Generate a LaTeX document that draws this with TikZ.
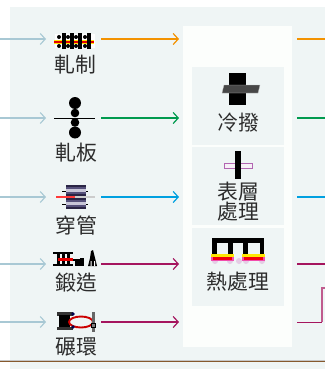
\documentclass[tikz,border=0pt]{standalone}
\usepackage{fontspec}
\newfontfamily\cjk{Noto Sans CJK TC}
\usetikzlibrary{arrows.meta}
\definecolor{panel}{HTML}{EFF5F5}
\definecolor{whitebox}{HTML}{FCFEFC}
\definecolor{inarrow}{HTML}{A8C8D4}
\definecolor{cOrange}{HTML}{F39200}
\definecolor{cGreen}{HTML}{009A4E}
\definecolor{cBlue}{HTML}{00A0E0}
\definecolor{cPurple}{HTML}{A5155E}
\definecolor{txt}{HTML}{2C2C2C}
\definecolor{rollD}{HTML}{2A2545}
\definecolor{rollM}{HTML}{55507A}
\definecolor{rollL}{HTML}{C8C6D8}
\tikzset{
  lbl/.style={font=\cjk\fontsize{20.8}{20.8}\selectfont,text=txt,inner sep=0pt,align=center},
  slot/.style={minimum width=55pt,minimum height=10pt,inner sep=0pt,outer sep=0pt},
  inline/.style={draw=inarrow,line width=1.1pt,-{Straight Barb[length=5pt,width=11pt]}},
  outline/.style={line width=2pt,-{Straight Barb[length=5pt,width=11pt,line width=1.2pt]}},
  tail/.style={line width=2pt},
  innerbox/.style={fill=panel,draw=none}
}
\begin{document}
\begin{tikzpicture}[x=1pt,y=-1pt]
\useasboundingbox (0,0) rectangle (325,369);
\fill[white] (0,0) rectangle (325,369);
\fill[panel] (10,7) rectangle (325,369);
\fill[whitebox] (183,26) rectangle (292,347);
\fill[innerbox] (192,67) rectangle (284,145);
\fill[innerbox] (192,147) rectangle (284,225);
\fill[innerbox] (192,228) rectangle (284,306);
\fill[gray!45] (0,360) rectangle (325,362.2);
\fill[brown!70!black] (0,360.6) rectangle (325,361.6);
\fill[white] (0,362.2) rectangle (10,369);
% slots and ends
\foreach \n/\y in {1/39,2/118,3/197,4/264,5/322}{
  \node[slot] (n\n) at (73.5,\y) {};
  \coordinate (s\n) at (0,\y);
  \coordinate (p\n) at (179,\y);
  \coordinate (q\n) at (297,\y);
  \coordinate (r\n) at (325,\y);
  \draw[inline] (s\n) -- (n\n.west);
}
\coordinate (c1) at (322,322);
\coordinate (c2) at (322,288);
\coordinate (c3) at (325,288);
\draw[outline,cOrange] (n1.east) -- (p1);
\draw[outline,cGreen] (n2.east) -- (p2);
\draw[outline,cBlue] (n3.east) -- (p3);
\draw[outline,cPurple] (n4.east) -- (p4);
\draw[outline,cPurple] (n5.east) -- (p5);
\draw[tail,cOrange] (q1) -- (r1);
\draw[tail,cGreen] (q2) -- (r2);
\draw[tail,cBlue] (q3) -- (r3);
\draw[tail,cPurple] (q4) -- (r4);
\draw[cPurple,line width=1pt] (q5) -- (c1);
\draw[cPurple!70!white,line width=1.4pt] (c1) -- (c2) -- (c3);
% rolling icon 1
\fill[white] (55,34) rectangle (95,48);
\fill[yellow!90!orange] (54,39.8) rectangle (94,43.8);
\fill[red!90!black] (54,40.8) rectangle (94,42.8);
\foreach \x in {62,70,78,87}{\fill[black] (\x,33.5) rectangle (\x+4,49);}
\foreach \x in {59,68,76,85}{\fill[black] (\x,37) circle (2); \fill[black] (\x,46) circle (2);}
% rolling icon 2
\draw[black,line width=.8pt] (54,118) -- (95,118);
\fill[black] (75,103) circle (6);
\fill[black] (75,113) circle (4.3);
\fill[black] (75,122.5) circle (4.3);
\fill[black] (75,132.5) circle (6);
% piercing icon
\fill[red!70!pink] (56,196) rectangle (75,198);
\fill[gray!40] (75,196) rectangle (95,198);
\draw[black,line width=1pt] (62,191) -- (88,191) (62,204) -- (88,204);
\foreach \a/\b in {65.5/74.8,75.4/85.5}{
 \foreach \t in {184.8,198.2}{
  \fill[rollD] (\a,\t) rectangle (\b,\t+11);
  \fill[rollM] (\a,\t+2) rectangle (\b,\t+9);
  \fill[rollL] (\a,\t+4) rectangle (\b,\t+7);
 }
}
% forging icon
\fill[black] (53,251.5) rectangle (73,254);
\fill[black] (53,263.5) rectangle (73,266);
\foreach \x in {57,62,67}{\fill[black] (\x,254) rectangle (\x+2.5,264);}
\fill[black] (70,258.5) rectangle (80,261);
\fill[red!90!black] (58,258) rectangle (73,261);
\fill[black] (75,260) rectangle (83,266);
\fill[black] (80,258) rectangle (84,266);
\fill[black] (88,266) -- (90,258) -- (91,251) -- (93,250) -- (95,258) -- (97,266) -- cycle;
\fill[white] (90.5,261) rectangle (91.5,266) (94,261) rectangle (95,266);
% ring icon
\fill[black!80] (57,312) rectangle (73,315.5);
\fill[black!80] (57,326.5) rectangle (73,330);
\fill[black] (59,315) rectangle (70,327);
\draw[red!80!black,line width=1.9pt] (81,322) ellipse (12 and 5.5);
\fill[gray!80!black] (92,312) rectangle (95,332);
\fill[black!70!blue] (73,314) circle (1.8) (73,327) circle (1.8);
\draw[black,fill=gray] (91.5,323) rectangle (95,327);
% cold drawing icon
\fill[black] (229,73) rectangle (246,105);
\fill[black!72,draw=gray!50,line width=.3pt] (224,85) -- (260,85) -- (258,93) -- (222,93) -- cycle;
% surface icon
\draw[violet!60,fill=white!80!violet!30,line width=.8pt] (224.5,163) rectangle (252.5,168);
\fill[black] (235,151) rectangle (241,179);
% heat icon
\fill[black] (212,238) rectangle (264,242.5);
\foreach \a/\b in {212/217,228/233,243/248,260/264}{\fill[black] (\a,238) rectangle (\b,255);}
\foreach \x in {215,230,239,246,262}{\fill[violet!20!white] (\x,261) circle (3);}
\foreach \a/\b in {211/234,242/265}{
 \fill[yellow!90!orange] (\a,254) rectangle (\b,257);
 \fill[magenta!70!white] (\a,257) rectangle (\b,261);
 \fill[red!80!purple] (\a+2,257) rectangle (\b-2,260);
}
% labels
\node[lbl] (t1) at (75,65) {軋制};
\node[lbl] (t2) at (76,153) {軋板};
\node[lbl] (t3) at (76,226) {穿管};
\node[lbl] (t4) at (76,283) {鍛造};
\node[lbl] (t5) at (76,347) {碾環};
\node[lbl] (t6) at (238,123) {冷撥};
\node[lbl] (t7) at (238,192) {表層};
\node[lbl] (t8) at (238,212) {處理};
\node[lbl] (t9) at (238,282) {熱處理};
\end{tikzpicture}
\end{document}
